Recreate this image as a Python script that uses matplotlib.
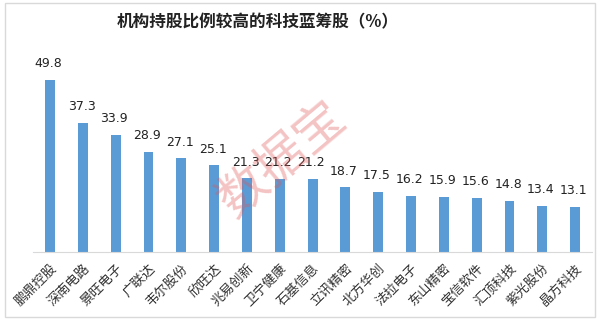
import numpy as np
import matplotlib.pyplot as plt
from matplotlib.patches import Rectangle

plt.rcParams['font.family'] = ['Noto Sans CJK SC', 'DejaVu Sans']

names = ['鹏鼎控股', '深南电路', '景旺电子', '广联达', '韦尔股份', '欣旺达',
         '兆易创新', '卫宁健康', '石基信息', '立讯精密', '北方华创', '法拉电子',
         '东山精密', '宝信软件', '汇顶科技', '紫光股份', '晶方科技']
values = [49.8, 37.3, 33.9, 28.9, 27.1, 25.1, 21.3, 21.2, 21.2, 18.7,
          17.5, 16.2, 15.9, 15.6, 14.8, 13.4, 13.1]

fig = plt.figure(figsize=(6, 3.2), dpi=100)
fig.patches.append(Rectangle((0.008, 0.01), 0.984, 0.98, transform=fig.transFigure,
                             fill=False, edgecolor='#d9d9d9', linewidth=1))

ax = fig.add_axes([0.055, 0.2125, 0.932, 0.594])
x = np.arange(len(values))
bars = ax.bar(x, values, width=0.3, color='#5b9bd5')

for xi, v in zip(x, values):
    ax.annotate(f'{v:.1f}', (xi, v), xytext=(-1, 7), textcoords='offset points',
                ha='center', va='bottom', fontsize=9, color='#222222',
                family='DejaVu Sans')

ax.set_xlim(-0.52, len(values) - 0.48)
ax.set_ylim(0, 55)
ax.set_yticks([])
ax.set_xticks(x)
ax.set_xticklabels(names, rotation=45, ha='right', rotation_mode='anchor',
                   fontsize=9.5, color='#333333')
ax.tick_params(axis='x', length=0, pad=7)
for s in ['top', 'right', 'left']:
    ax.spines[s].set_visible(False)
ax.spines['bottom'].set_color('#d9d9d9')

fig.text(0.43, 0.93, '机构持股比例较高的科技蓝筹股（%）', ha='center', va='center',
         fontsize=12, fontweight='bold', color='#222222')

# watermark stamp
fig.text(0.47, 0.5, '数据宝', ha='center', va='center', rotation=40,
         fontsize=36, color='#e05555', alpha=0.35)

fig.savefig('out.png', dpi=100)
